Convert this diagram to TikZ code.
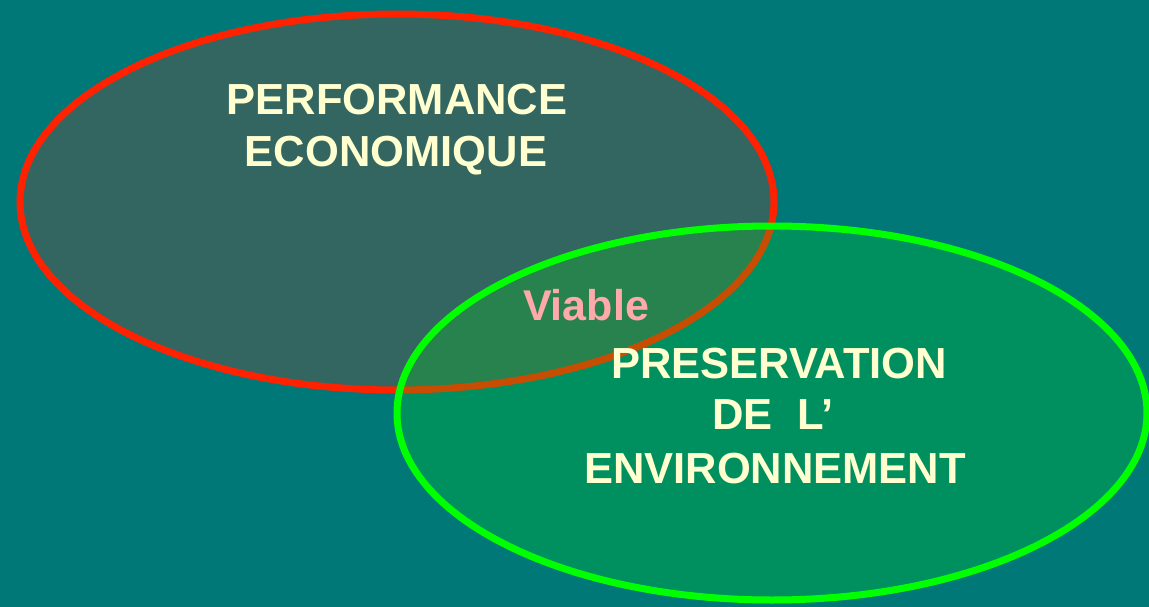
\documentclass[tikz,border=0pt]{standalone}
\usepackage{fontspec}
\setmainfont{Liberation Sans}
\definecolor{bgteal}{RGB}{0,120,120}
\definecolor{redline}{RGB}{255,34,0}
\definecolor{greenline}{RGB}{0,255,0}
\definecolor{greenfill}{RGB}{0,232,10}
\definecolor{cream}{RGB}{255,255,208}
\definecolor{pinkish}{RGB}{255,170,170}
\tikzset{
  lbl/.style={anchor=base, inner sep=0pt, text=cream, font=\fontsize{43.5}{50}\selectfont\bfseries},
  viab/.style={anchor=base, inner sep=0pt, text=pinkish, font=\fontsize{43}{50}\selectfont\bfseries},
}
\begin{document}
\begin{tikzpicture}[x=1pt,y=-1pt]
\fill[bgteal] (0,0) rectangle (1149,607);
\useasboundingbox (0,0) rectangle (1149,607);
\draw[redline, line width=7pt, fill=redline, fill opacity=0.2, draw opacity=1] (397,202) ellipse [x radius=377, y radius=188];
\draw[greenline, line width=7pt, fill=greenfill, fill opacity=0.22, draw opacity=1] (772,413) ellipse [x radius=375, y radius=187];
\node[lbl] (perf) at (397,115) {PERFORMANCE};
\node[lbl] (eco) at (396,167) {ECONOMIQUE};
\node[viab] (viable) at (586,320) {Viable};
\node[lbl] (pres) at (779,378) {PRESERVATION};
\node[lbl] (del) at (773,429) {DE\ \ L’};
\node[lbl] (env) at (775,483) {ENVIRONNEMENT};
\end{tikzpicture}
\end{document}
